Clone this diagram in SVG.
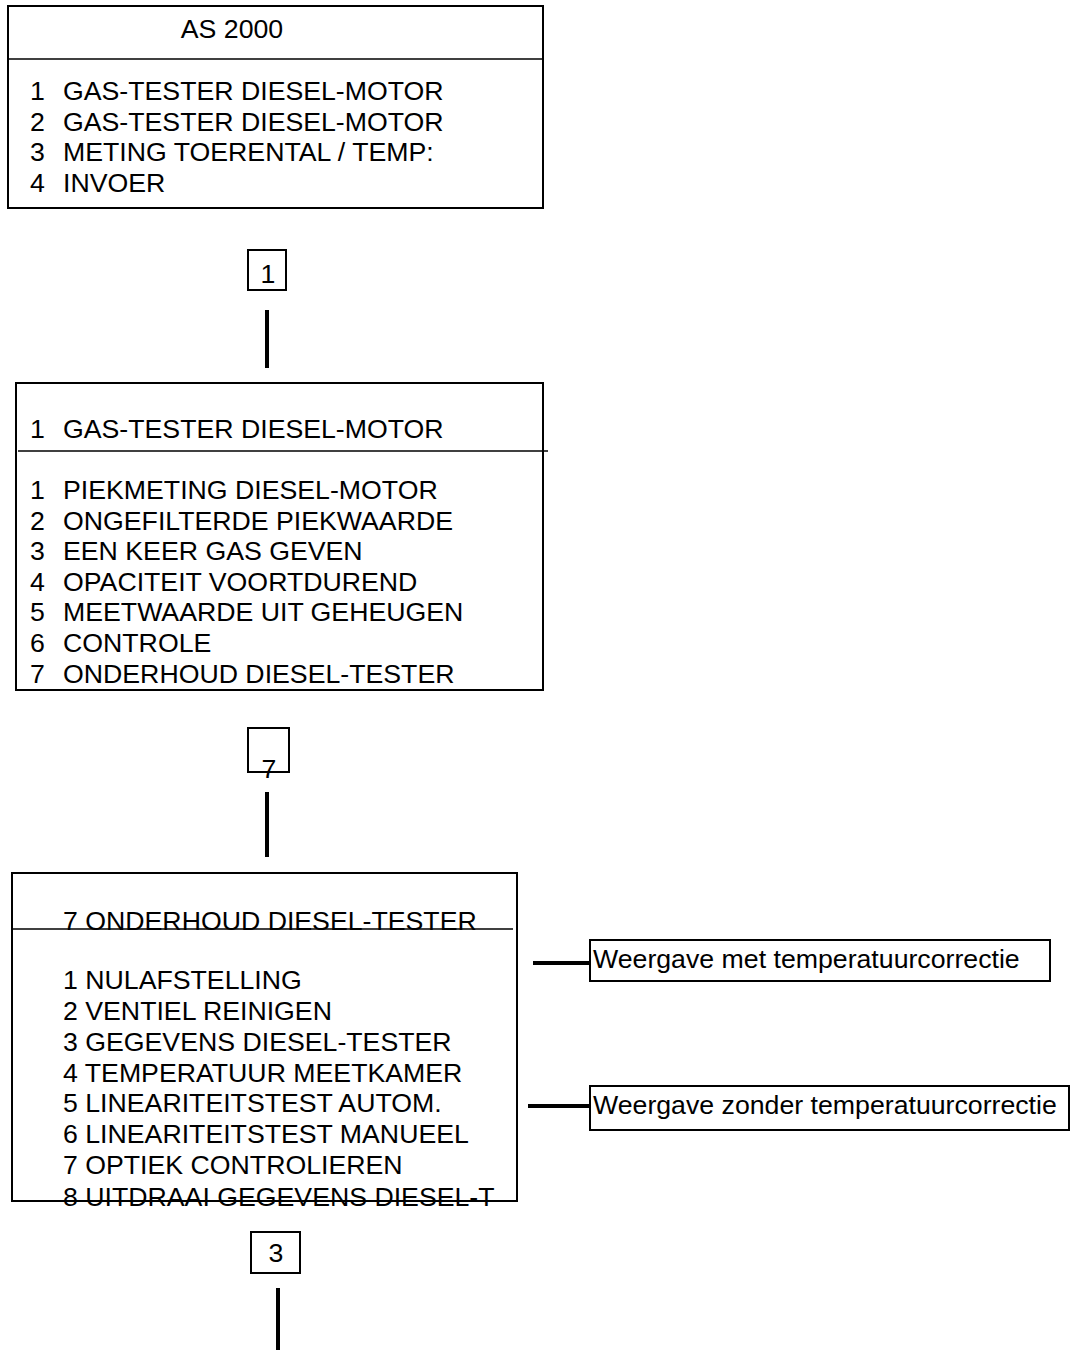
<svg xmlns="http://www.w3.org/2000/svg" width="1071" height="1350" viewBox="0 0 1071 1350">
<style>
.box{fill:#fff;stroke:#000;stroke-width:2}
.div{stroke:#000;stroke-width:1.5}
.t{font-family:"Liberation Sans",Arial,sans-serif;font-size:26.7px;fill:#000}
.s{font-family:"Liberation Sans",Arial,sans-serif;font-size:26.7px;fill:#000}
.c{stroke:#000;stroke-width:4;fill:none}
</style>
<rect width="1071" height="1350" fill="#fff"/>
<g id="connectors">
<line class="c" x1="267" y1="310" x2="267" y2="368"/>
<line class="c" x1="267" y1="792" x2="267" y2="857"/>
<line class="c" x1="278" y1="1288" x2="278" y2="1350"/>
<line class="c" x1="533" y1="963" x2="590" y2="963"/>
<line class="c" x1="528" y1="1106" x2="590" y2="1106"/>
</g>
<g id="node-as2000">
<rect class="box" x="8" y="6" width="535" height="202"/>
<line class="div" x1="8" y1="59" x2="543" y2="59"/>
<text class="t" x="232" y="38" text-anchor="middle">AS 2000</text>
<text class="t" x="30" y="100">1</text><text class="t" x="63" y="100">GAS-TESTER DIESEL-MOTOR</text>
<text class="t" x="30" y="131">2</text><text class="t" x="63" y="131">GAS-TESTER DIESEL-MOTOR</text>
<text class="t" x="30" y="161">3</text><text class="t" x="63" y="161">METING TOERENTAL / TEMP:</text>
<text class="t" x="30" y="192">4</text><text class="t" x="63" y="192">INVOER</text>
</g>
<g id="key-1">
<rect class="box" x="248" y="250" width="38" height="40"/>
<text class="t" x="268" y="283" text-anchor="middle">1</text>
</g>
<g id="node-gastester">
<rect class="box" x="16" y="383" width="527" height="307"/>
<line class="div" x1="18" y1="451" x2="548" y2="451"/>
<text class="t" x="30" y="438">1</text><text class="t" x="63" y="438">GAS-TESTER DIESEL-MOTOR</text>
<text class="t" x="30" y="499">1</text><text class="t" x="63" y="499">PIEKMETING DIESEL-MOTOR</text>
<text class="t" x="30" y="530">2</text><text class="t" x="63" y="530">ONGEFILTERDE PIEKWAARDE</text>
<text class="t" x="30" y="560">3</text><text class="t" x="63" y="560">EEN KEER GAS GEVEN</text>
<text class="t" x="30" y="591">4</text><text class="t" x="63" y="591">OPACITEIT VOORTDUREND</text>
<text class="t" x="30" y="621">5</text><text class="t" x="63" y="621">MEETWAARDE UIT GEHEUGEN</text>
<text class="t" x="30" y="652">6</text><text class="t" x="63" y="652">CONTROLE</text>
<text class="t" x="30" y="683">7</text><text class="t" x="63" y="683">ONDERHOUD DIESEL-TESTER</text>
</g>
<g id="key-7">
<rect class="box" x="248" y="728" width="41" height="44"/>
<text class="t" x="269" y="778" text-anchor="middle">7</text>
</g>
<g id="node-onderhoud">
<rect class="box" x="12" y="873" width="505" height="328"/>
<text class="t" x="63" y="930">7 ONDERHOUD DIESEL-TESTER</text>
<line class="div" x1="12" y1="929" x2="513" y2="929"/>
<text class="t" x="63" y="989">1 NULAFSTELLING</text>
<text class="t" x="63" y="1020">2 VENTIEL REINIGEN</text>
<text class="t" x="63" y="1051">3 GEGEVENS DIESEL-TESTER</text>
<text class="t" x="63" y="1082">4 TEMPERATUUR MEETKAMER</text>
<text class="t" x="63" y="1112">5 LINEARITEITSTEST AUTOM.</text>
<text class="t" x="63" y="1143">6 LINEARITEITSTEST MANUEEL</text>
<text class="t" x="63" y="1174">7 OPTIEK CONTROLIEREN</text>
<text class="t" x="63" y="1206">8 UITDRAAI GEGEVENS DIESEL-T</text>
</g>
<g id="note-met">
<rect class="box" x="590" y="940" width="460" height="41"/>
<text class="s" x="593" y="968">Weergave met temperatuurcorrectie</text>
</g>
<g id="note-zonder">
<rect class="box" x="590" y="1086" width="479" height="44"/>
<text class="s" x="593" y="1114">Weergave zonder temperatuurcorrectie</text>
</g>
<g id="key-3">
<rect class="box" x="251" y="1232" width="49" height="41"/>
<text class="t" x="276" y="1262" text-anchor="middle">3</text>
</g>
</svg>
